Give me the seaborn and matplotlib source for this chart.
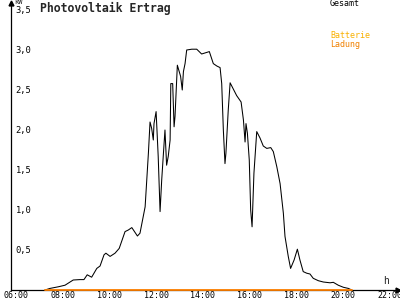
import matplotlib
matplotlib.use("Agg")
import matplotlib.pyplot as plt
import seaborn as sns
import pandas as pd

# Gesamt (kW) over time of day (hours)
hours = [7.24, 7.46, 7.81, 8.10, 8.45, 8.74, 8.91, 9.05, 9.24, 9.46, 9.60, 9.77, 9.85,
         10.03, 10.24, 10.42, 10.67, 10.81, 10.96, 11.20, 11.31, 11.45, 11.53, 11.67,
         11.74, 11.81, 11.88, 11.91, 12.00, 12.05, 12.09, 12.17, 12.24, 12.31, 12.38,
         12.45, 12.52, 12.60, 12.63, 12.71, 12.77, 12.81, 12.91, 12.99, 13.05, 13.12,
         13.17, 13.24, 13.31, 13.53, 13.74, 13.95, 14.17, 14.28, 14.45, 14.60, 14.74,
         14.81, 14.88, 14.95, 14.99, 15.09, 15.17, 15.31, 15.45, 15.64, 15.74, 15.81,
         15.85, 15.91, 15.99, 16.05, 16.11, 16.19, 16.31, 16.45, 16.59, 16.74, 16.91,
         17.02, 17.17, 17.31, 17.45, 17.52, 17.66, 17.76, 17.91, 18.05, 18.16, 18.30,
         18.45, 18.59, 18.73, 18.95, 19.16, 19.45, 19.59, 19.80, 20.02, 20.23, 20.38]
gesamt = [0.00, 0.02, 0.04, 0.06, 0.125, 0.13, 0.13, 0.19, 0.16, 0.27, 0.30, 0.44, 0.46,
          0.42, 0.46, 0.52, 0.73, 0.75, 0.78, 0.675, 0.71, 0.92, 1.04, 1.71,
          2.10, 2.02, 1.875, 2.08, 2.23, 1.92, 1.67, 0.98, 1.375, 1.69, 2.00,
          1.56, 1.67, 1.875, 2.58, 2.58, 2.04, 2.17, 2.81, 2.73, 2.67, 2.50,
          2.73, 2.83, 3.00, 3.01, 3.01, 2.95, 2.97, 2.98, 2.83, 2.80, 2.78,
          2.58, 2.00, 1.58, 1.71, 2.25, 2.59, 2.51, 2.43, 2.35, 2.125, 1.85,
          2.08, 1.96, 1.625, 1.00, 0.79, 1.46, 1.98, 1.90, 1.80, 1.77, 1.78,
          1.73, 1.54, 1.33, 0.96, 0.67, 0.42, 0.27, 0.375, 0.51, 0.375, 0.23,
          0.21, 0.20, 0.146, 0.116, 0.10, 0.09, 0.096, 0.06, 0.034, 0.02, 0.00]

# Batterie Ladung (kW) - zero all day
ladung_hours = [7.24, 20.38]
ladung = [0.0, 0.0]

x_ticks = [6, 8, 10, 12, 14, 16, 18, 20, 22]
x_labels = ["06:00", "08:00", "10:00", "12:00", "14:00", "16:00", "18:00", "20:00", "22:00"]
y_ticks = [0.5, 1.0, 1.5, 2.0, 2.5, 3.0, 3.5]
y_labels = ["0,5", "1,0", "1,5", "2,0", "2,5", "3,0", "3,5"]

title = "Photovoltaik Ertrag"
legend_items = [("Gesamt", "#000000"), ("Batterie", "#F8B000"), ("Ladung", "#F08000")]

sns.set_style("white")
plt.rcParams["font.family"] = ["DejaVu Sans Mono", "DejaVu Sans"]

fig = plt.figure(figsize=(4, 3), dpi=100)
ax = fig.add_axes([11 / 400, 10 / 300, 387 / 400, 287 / 300])

df = pd.DataFrame({"h": hours, "kW": gesamt})
dl = pd.DataFrame({"h": ladung_hours, "kW": ladung})
sns.lineplot(data=df, x="h", y="kW", ax=ax, color="black", linewidth=0.75,
             sort=False)
sns.lineplot(data=dl, x="h", y="kW", ax=ax, color="#FF8000", linewidth=1.3,
             sort=False, zorder=5, clip_on=False)

x0 = 6 - 5 / 23.35
x1 = 6 + 382 / 23.35
ax.set_xlim(x0, x1)
ax.set_ylim(0, 287 / 80)

for s in ["top", "right"]:
    ax.spines[s].set_visible(False)
for s in ["left", "bottom"]:
    ax.spines[s].set_color("black")
    ax.spines[s].set_linewidth(0.9)

ax.set_xticks(x_ticks)
ax.set_xticklabels(x_labels)
ax.set_yticks(y_ticks)
ax.set_yticklabels([])
ax.tick_params(axis="x", direction="inout", length=6, width=0.9, pad=-2.2,
               labelsize=6, colors="black")
ax.tick_params(axis="y", direction="inout", length=6, width=0.9, labelleft=False)
ax.set_xlabel("")
ax.set_ylabel("")

for v, lab in zip(y_ticks, y_labels):
    ax.text(0.012, v, lab, transform=ax.get_yaxis_transform(), ha="left",
            va="center", fontsize=6.3, color="black")

# axis arrows
ax.plot([1], [0], marker=">", markersize=3.5, color="black", transform=ax.transAxes,
        clip_on=False)
ax.plot([0], [1], marker="^", markersize=3.5, color="black", transform=ax.transAxes,
        clip_on=False)

fig.text(14 / 400, 1 - 2 / 300, "kW", fontsize=5, ha="left", va="center")
fig.text(386 / 400, 1 - 281 / 300, "h", fontsize=7, ha="center", va="center")
fig.text(40 / 400, 1 - 8 / 300, title, fontsize=8.3, fontweight="bold",
         ha="left", va="center")

ys = [4, 36, 44]
for (lab, col), yy in zip(legend_items, ys):
    fig.text(330 / 400, 1 - yy / 300, lab, fontsize=6, color=col, ha="left", va="center")

fig.savefig("out.png", dpi=100)
